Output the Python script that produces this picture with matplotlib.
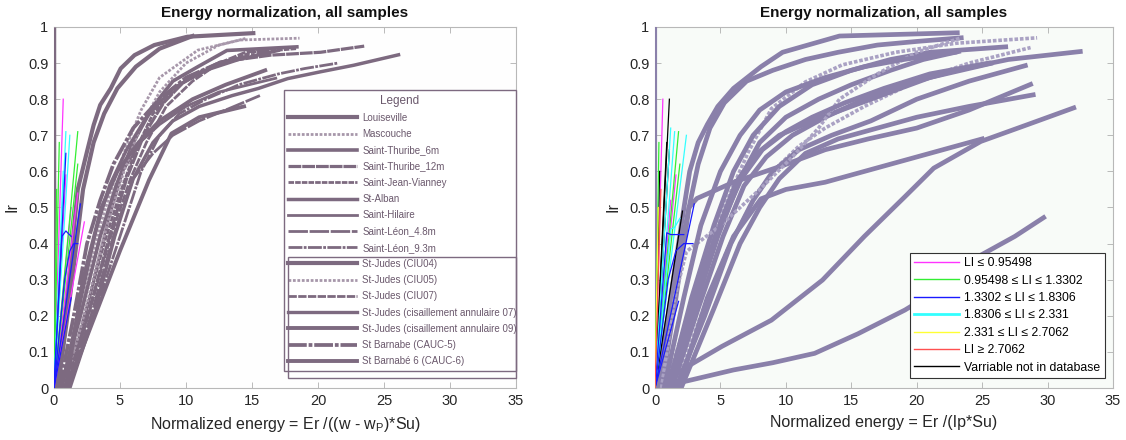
import matplotlib
matplotlib.use("Agg")
import matplotlib.pyplot as plt
from matplotlib.patches import Rectangle

plt.rcParams['font.family'] = ['Liberation Sans', 'DejaVu Sans']
plt.rcParams['mathtext.fontset'] = 'custom'
plt.rcParams['mathtext.rm'] = 'Liberation Sans'
plt.rcParams['mathtext.it'] = 'Liberation Sans:italic'

# ---------------- data ----------------
site_names = [
    "Louiseville", "Mascouche", "Saint-Thuribe_6m", "Saint-Thuribe_12m",
    "Saint-Jean-Vianney", "St-Alban", "Saint-Hilaire", "Saint-Léon_4.8m",
    "Saint-Léon_9.3m", "St-Judes (CIU04)", "St-Judes (CIU05)", "St-Judes (CIU07)",
    "St-Judes (cisaillement annulaire 07)", "St-Judes (cisaillement annulaire 09)",
    "St Barnabe (CAUC-5)", "St Barnabé 6 (CAUC-6)",
]

# normalized energy Er/((w - wP)*Su) and Ir, one curve per site
left_x = [
    [0.2, 1.0, 1.8, 2.5, 3.0, 3.5, 4.3, 5.05, 6.1, 7.6, 10.1, 15.1],
    [0.6, 2.0, 3.5, 4.6, 5.6, 6.6, 8.0, 10.9, 14.1, 18.6],
    [0.5, 2.0, 3.5, 4.7, 6.0, 7.5, 9.0, 10.9, 13.1, 18.4],
    [1.0, 2.7, 4.2, 5.5, 6.8, 8.3, 10.1, 12.6, 16.4, 20.2, 23.5],
    [0.7, 2.3, 3.8, 5.0, 6.2, 7.5, 9.5, 12.0, 15.0, 18.4],
    [1.2, 3.0, 4.6, 6.0, 7.5, 9.0, 11.0, 13.5, 15.5, 17.7, 20.2, 22.7, 26.1],
    [0.9, 2.5, 4.0, 5.2, 6.5, 8.0, 10.0, 12.5, 16.8],
    [1.0, 2.8, 4.5, 6.0, 7.5, 9.0, 11.0, 13.0, 15.6],
    [1.1, 3.2, 5.0, 6.6, 8.0, 9.5, 11.5, 14.0, 17.0, 19.0, 21.5],
    [0.3, 1.2, 2.2, 3.0, 3.8, 4.8, 6.2, 8.0, 10.5],
    [0.8, 2.4, 4.0, 5.3, 6.5, 8.0, 10.0, 12.5, 14.5],
    [0.8, 2.6, 4.3, 5.8, 7.0, 8.5, 10.5, 12.5, 14.5, 16.5],
    [0.6, 2.0, 3.2, 4.2, 5.5, 7.0, 9.0, 11.5, 14.0, 17.0],
    [1.0, 3.0, 5.0, 7.2, 8.9, 11.0, 14.4],
    [0.4, 1.5, 2.5, 3.5, 4.5, 6.0, 8.0, 10.0, 12.5, 16.0],
    [0.9, 2.2, 3.6, 4.8, 6.4, 8.0, 10.5, 13.0, 16.0],
]
left_y = [
    [0, 0.25, 0.55, 0.655, 0.728, 0.784, 0.83, 0.885, 0.922, 0.95, 0.973, 0.983],
    [0, 0.2, 0.45, 0.58, 0.68, 0.77, 0.86, 0.936, 0.964, 0.969],
    [0, 0.2, 0.42, 0.56, 0.68, 0.78, 0.85, 0.89, 0.935, 0.945],
    [0, 0.22, 0.42, 0.58, 0.7, 0.79, 0.858, 0.903, 0.922, 0.93, 0.947],
    [0, 0.2, 0.4, 0.54, 0.66, 0.76, 0.84, 0.89, 0.93, 0.94],
    [0, 0.2, 0.42, 0.58, 0.68, 0.74, 0.78, 0.81, 0.83, 0.857, 0.876, 0.894, 0.923],
    [0, 0.22, 0.45, 0.6, 0.68, 0.73, 0.78, 0.82, 0.858],
    [0, 0.2, 0.42, 0.58, 0.65, 0.7, 0.74, 0.77, 0.81],
    [0, 0.22, 0.42, 0.6, 0.7, 0.76, 0.8, 0.84, 0.87, 0.885, 0.9],
    [0, 0.25, 0.55, 0.68, 0.76, 0.83, 0.89, 0.94, 0.975],
    [0, 0.22, 0.45, 0.6, 0.72, 0.82, 0.9, 0.95, 0.968],
    [0, 0.2, 0.42, 0.58, 0.68, 0.78, 0.85, 0.9, 0.93, 0.94],
    [0, 0.24, 0.44, 0.56, 0.66, 0.75, 0.83, 0.88, 0.91, 0.935],
    [0, 0.19, 0.38, 0.576, 0.705, 0.75, 0.78],
    [0, 0.2, 0.4, 0.52, 0.62, 0.72, 0.8, 0.86, 0.9, 0.93],
    [0, 0.3, 0.5, 0.6, 0.68, 0.74, 0.8, 0.84, 0.88],
]

# normalized energy Er/(Ip*Su) and Ir
right_x = [
    [0.3, 1.2, 2.0, 2.65, 3.3, 4.0, 4.8, 6.0, 8.1, 9.75, 14.1, 23.1],
    [0.5, 1.6, 2.6, 3.3, 4.2, 5.3, 7.0, 9.0, 11.5, 14.0, 17.0, 20.0, 23.4],
    [0.8, 2.5, 4.0, 5.5, 7.15, 8.9, 11.5, 14.3, 18.4, 23.0, 29.2],
    [1.0, 2.8, 4.5, 6.0, 7.5, 9.5, 12.0, 15.0, 18.0, 21.0, 26.8],
    [1.2, 3.0, 4.8, 6.5, 8.0, 10.0, 12.5, 15.0, 18.0, 20.5, 23.2],
    [1.5, 3.5, 5.5, 7.5, 9.0, 11.0, 13.0, 16.0, 20.0, 24.0, 28.7],
    [1.3, 3.3, 5.2, 6.8, 8.5, 10.5, 13.0, 16.0, 19.0, 23.0, 27.0, 32.5],
    [0.9, 2.8, 4.6, 6.2, 7.8, 9.5, 12.0, 15.0, 18.0, 21.0, 25.65],
    [1.6, 3.8, 5.8, 7.5, 9.0, 11.0, 13.5, 16.5, 20.0, 24.0, 28.3],
    [0.0, 1.5, 2.6, 3.2, 6.0, 9.75, 13.0, 16.3, 20.0, 24.0, 28.7],
    [2.0, 4.5, 6.5, 8.0, 9.5, 11.5, 14.0, 17.0, 20.0, 24.0, 28.9],
    [0.0, 2.5, 5.1, 8.9, 12.8, 16.0, 19.1, 21.3, 24.9, 28.5, 32.0],
    [0.0, 2.5, 6.0, 9.0, 12.2, 15.5, 19.1, 22.0, 24.9, 27.5, 29.7],
    [0.5, 1.5, 2.4, 5.0, 8.0, 10.5, 12.5, 14.1, 17.0, 20.0, 23.4],
    [1.8, 4.0, 6.0, 8.1, 10.0, 13.0, 16.0, 19.0, 22.0, 25.0],
    [0.7, 2.2, 3.5, 5.0, 6.5, 8.0, 10.0, 13.0, 16.0, 19.0, 22.9],
    [1.1, 3.2, 5.0, 6.6, 8.2, 10.0, 12.0, 14.5, 17.5, 21.0, 25.5],
]
right_y = [
    [0, 0.25, 0.45, 0.6, 0.68, 0.73, 0.78, 0.83, 0.89, 0.93, 0.975, 0.984],
    [0, 0.25, 0.5, 0.62, 0.72, 0.79, 0.85, 0.88, 0.91, 0.93, 0.95, 0.96, 0.97],
    [0, 0.2, 0.38, 0.52, 0.655, 0.774, 0.848, 0.895, 0.93, 0.955, 0.97],
    [0, 0.25, 0.45, 0.6, 0.7, 0.78, 0.84, 0.88, 0.91, 0.93, 0.945],
    [0, 0.22, 0.42, 0.58, 0.68, 0.75, 0.8, 0.84, 0.88, 0.91, 0.932],
    [0, 0.2, 0.38, 0.52, 0.6, 0.67, 0.72, 0.78, 0.85, 0.9, 0.943],
    [0, 0.22, 0.42, 0.56, 0.64, 0.7, 0.75, 0.8, 0.84, 0.88, 0.91, 0.932],
    [0, 0.22, 0.42, 0.57, 0.65, 0.7, 0.74, 0.78, 0.82, 0.86, 0.899],
    [0, 0.2, 0.4, 0.52, 0.6, 0.66, 0.7, 0.74, 0.8, 0.85, 0.893],
    [0, 0.3, 0.5, 0.525, 0.57, 0.616, 0.66, 0.69, 0.72, 0.77, 0.841],
    [0, 0.22, 0.4, 0.5, 0.58, 0.65, 0.69, 0.72, 0.75, 0.78, 0.812],
    [0, 0.06, 0.115, 0.188, 0.299, 0.42, 0.53, 0.609, 0.683, 0.73, 0.776],
    [0, 0.02, 0.05, 0.07, 0.096, 0.15, 0.216, 0.28, 0.368, 0.42, 0.472],
    [0, 0.25, 0.378, 0.45, 0.55, 0.64, 0.72, 0.8, 0.87, 0.93, 0.97],
    [0, 0.25, 0.42, 0.524, 0.55, 0.57, 0.6, 0.63, 0.66, 0.69],
    [0, 0.25, 0.45, 0.6, 0.7, 0.77, 0.82, 0.86, 0.89, 0.91, 0.93],
    [0, 0.25, 0.45, 0.58, 0.66, 0.71, 0.75, 0.79, 0.83, 0.87, 0.9],
]
right_dotted = [2, 5, 13]

# LI class labels and colours
li_labels = ["LI ≤ 0.95498", "0.95498 ≤ LI ≤ 1.3302", "1.3302 ≤ LI ≤ 1.8306",
             "1.8306 ≤ LI ≤ 2.331", "2.331 ≤ LI ≤ 2.7062", "LI ≥ 2.7062",
             "Varriable not in database"]
li_colors = ["#ff33ff", "#33ee33", "#1a1aff", "#33ffff", "#ffff33", "#ff5050", "#000000"]

# short specimen curves (x, y, LI class index)
left_li_x = [[0, 0.7], [0, 0.9], [0, 1.8], [0, 2.3], [0, 1.3],
             [0, 0.4], [0, 1.8], [0, 1.8], [0, 0.2],
             [0, 0.9], [0, 1.2], [0, 0.7],
             [0, 0.9], [0, 2.0], [0, 0.6, 0.9, 1.3], [0, 0.8, 1.2, 1.5, 1.8], [0, 1.3]]
left_li_y = [[0, 0.8], [0, 0.59], [0, 0.54], [0, 0.46], [0, 0.5],
             [0, 0.68], [0, 0.71], [0, 0.62], [0, 0.55],
             [0, 0.71], [0, 0.70], [0, 0.6],
             [0, 0.65], [0, 0.51], [0, 0.42, 0.435, 0.42], [0, 0.3, 0.38, 0.40, 0.40], [0, 0.25]]
left_li_cls = [0, 0, 0, 0, 0, 1, 1, 1, 1, 3, 3, 3, 2, 2, 2, 2, 2]

right_li_x = [[0, 0.6], [0, 1.6], [0, 1.2],
              [0, 1.1], [0, 0.9], [0, 1.1], [0, 2.1], [0, 0.35],
              [0, 0.3], [0, 1.8], [0, 1.9],
              [0, 1.2], [0, 1.5], [0, 2.4], [0, 1.2, 1.5, 1.9],
              [0, 3.0], [0, 0.9, 1.2, 2.2], [0, 1.0, 1.6, 2.2, 2.9], [0, 1.8],
              [0, 0.25], [0, 0.45]]
right_li_y = [[0, 0.8], [0, 0.59], [0, 0.52],
              [0, 0.8], [0, 0.68], [0, 0.66], [0, 0.49], [0, 0.6],
              [0, 0.68], [0, 0.71], [0, 0.62],
              [0, 0.72], [0, 0.71], [0, 0.70], [0, 0.44, 0.445, 0.47],
              [0, 0.51], [0, 0.43, 0.425, 0.425], [0, 0.3, 0.38, 0.40, 0.40], [0, 0.24],
              [0, 0.5], [0, 0.55]]
right_li_cls = [0, 0, 0, 6, 6, 6, 6, 6, 1, 1, 1, 3, 3, 3, 3, 2, 2, 2, 2, 4, 5]

x_ticks = [0, 5, 10, 15, 20, 25, 30, 35]
y_ticks = [0, 0.1, 0.2, 0.3, 0.4, 0.5, 0.6, 0.7, 0.8, 0.9, 1]
y_ticklabels = ["0", "0.1", "0.2", "0.3", "0.4", "0.5", "0.6", "0.7", "0.8", "0.9", "1"]

# ---------------- styles ----------------
MAUVE = "#7d6a80"
MAUVE_LIGHT = "#a797aa"
LAVENDER = "#8a80aa"
LAVENDER_LIGHT = "#aaa2c4"

site_styles = [
    dict(lw=3.0, ls="-", color=MAUVE),
    dict(lw=2.0, ls=(0, (1, 0.6)), color=MAUVE_LIGHT),
    dict(lw=2.6, ls="-", color=MAUVE),
    dict(lw=2.3, ls=(0, (4, 0.3)), color=MAUVE),
    dict(lw=2.0, ls=(0, (2, 0.4)), color=MAUVE),
    dict(lw=2.5, ls="-", color=MAUVE),
    dict(lw=2.0, ls="-", color=MAUVE),
    dict(lw=2.0, ls=(0, (7, 0.6)), color=MAUVE),
    dict(lw=2.0, ls=(0, (5, 0.5, 1, 0.5)), color=MAUVE),
    dict(lw=3.0, ls="-", color=MAUVE),
    dict(lw=2.0, ls=(0, (1, 0.6)), color=MAUVE_LIGHT),
    dict(lw=2.0, ls=(0, (3, 0.5)), color=MAUVE),
    dict(lw=2.4, ls="-", color=MAUVE),
    dict(lw=2.8, ls="-", color=MAUVE),
    dict(lw=2.7, ls=(0, (5, 0.5, 1, 0.5)), color=MAUVE),
    dict(lw=2.8, ls="-", color=MAUVE),
]


def style_axes(ax, xlabel, bg):
    ax.set_facecolor(bg)
    ax.set_xlim(0, 35)
    ax.set_ylim(0, 1)
    ax.set_xticks(x_ticks)
    ax.set_yticks(y_ticks)
    ax.set_yticklabels(y_ticklabels)
    ax.tick_params(direction="in", length=4, width=0.6, colors="#b0b0b0",
                   labelcolor="#262626", labelsize=10.5, top=True, right=True, pad=4)
    for s in ax.spines.values():
        s.set_color("#b8b8b8")
        s.set_linewidth(0.8)
    ax.set_title("Energy normalization, all samples", fontsize=11,
                 fontweight="bold", color="#111111", pad=7)
    ax.set_xlabel(xlabel, fontsize=11.5, color="#262626", labelpad=5)
    ax.set_ylabel("Ir", fontsize=11.5, color="#262626", labelpad=6)


fig = plt.figure(figsize=(11.26, 4.4), dpi=100)
axL = fig.add_axes([54 / 1126, 52 / 440, 462 / 1126, 361 / 440])
axR = fig.add_axes([655 / 1126, 52 / 440, 458 / 1126, 361 / 440])

# ---------------- left panel ----------------
style_axes(axL, r"Normalized energy = Er /((w - w$_\mathrm{P}$)*Su)", "#fefefe")
axL.plot([0, 0], [0, 1], color=MAUVE, lw=2.5, solid_capstyle="butt", zorder=3)
for i, (xs, ys) in enumerate(zip(left_x, left_y)):
    axL.plot(xs, ys, label=site_names[i], zorder=2, **site_styles[i])
for xs, ys, c in zip(left_li_x, left_li_y, left_li_cls):
    axL.plot(xs, ys, color=li_colors[c], lw=0.9, zorder=4)

legL = axL.legend(loc="upper left", bbox_to_anchor=(0.497, 0.826, 0.503, 0.0),
                  mode="expand", fontsize=7, title="Legend", title_fontsize=8.5,
                  handlelength=7.0, handletextpad=0.6, labelspacing=0.64,
                  borderpad=0.5, borderaxespad=0, fancybox=False, framealpha=1,
                  facecolor="white", edgecolor=MAUVE, labelcolor="#6a586c")
legL.get_frame().set_linewidth(1.0)
legL.get_title().set_color("#6a586c")
axL.add_patch(Rectangle((0.506, 0.028), 0.494, 0.335, transform=axL.transAxes,
                        fill=False, edgecolor=MAUVE, lw=1.0, zorder=10, clip_on=False))

# ---------------- right panel ----------------
style_axes(axR, "Normalized energy = Er /(Ip*Su)", "#f8fbf8")
axR.plot([0, 0], [0, 1], color=LAVENDER, lw=3, solid_capstyle="butt", zorder=3)
for i, (xs, ys) in enumerate(zip(right_x, right_y)):
    if i in right_dotted:
        axR.plot(xs, ys, color=LAVENDER_LIGHT, lw=2.6, ls=(0, (1, 0.5)), zorder=2)
    else:
        axR.plot(xs, ys, color=LAVENDER, lw=3.4, zorder=2)
for xs, ys, c in zip(right_li_x, right_li_y, right_li_cls):
    axR.plot(xs, ys, color=li_colors[c], lw=0.9, zorder=4)

handles = [plt.Line2D([], [], color=c, lw=(2.0 if k == 3 else 1.0))
           for k, c in enumerate(li_colors)]
legR = axR.legend(handles, li_labels, loc="lower right", bbox_to_anchor=(0.982, 0.028),
                  fontsize=8.8, handlelength=3.7, handletextpad=0.4, labelspacing=0.44,
                  borderpad=0.35, borderaxespad=0, fancybox=False, framealpha=1,
                  facecolor="white", edgecolor="#333333")
legR.get_frame().set_linewidth(0.8)

fig.savefig("out.png", dpi=100)
